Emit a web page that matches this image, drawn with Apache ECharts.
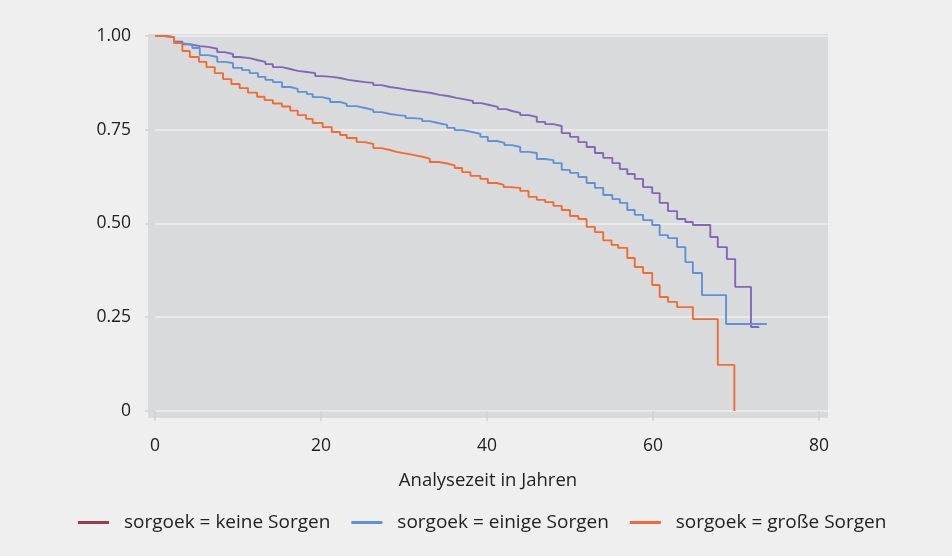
<!DOCTYPE html>
<html>
<head>
<meta charset="utf-8">
<script src="https://cdn.jsdelivr.net/npm/echarts@6/dist/echarts.min.js"></script>
<style>
html,body{margin:0;padding:0;background:#efefef;}
#c{width:952px;height:556px;}
</style>
</head>
<body>
<div id="c"></div>
<script>
// Kaplan-Meier survival estimates
const seriesNames = ['sorgoek = keine Sorgen', 'sorgoek = einige Sorgen', 'sorgoek = große Sorgen'];

const keineT = [0, 1.2, 2.3, 3.3, 4.2, 5.4, 6.4, 7.5, 8.4, 9.4, 10.2, 11.4, 12.3, 13.3, 14.2, 15.3, 16.3, 17.2, 18.3, 19.3,
  20.2, 21.3, 22.3, 23.3, 24.3, 25.3, 26.3, 27.3, 28.3, 29.3, 30.3, 31.3, 32.3, 33.3, 34.3, 35.3, 36.3, 37.3, 38.3, 39.3,
  40.3, 41.3, 42.3, 43.0, 44.0, 45.0, 46.0, 47.0, 48.0, 49.0, 50.0, 51.0, 52.0, 53.0, 54.0, 55.1, 56.0, 56.9, 57.8, 58.8,
  59.9, 60.8, 61.8, 62.9, 63.9, 64.8, 66.9, 67.8, 68.9, 69.9, 71.8, 72.7];
const keineS = [1.000, 0.997, 0.985, 0.978, 0.973, 0.971, 0.966, 0.957, 0.952, 0.944, 0.941, 0.936, 0.931, 0.925, 0.917, 0.912, 0.907, 0.904, 0.901, 0.893,
  0.891, 0.888, 0.883, 0.880, 0.877, 0.875, 0.869, 0.864, 0.861, 0.857, 0.854, 0.851, 0.848, 0.843, 0.840, 0.835, 0.831, 0.827, 0.821, 0.816,
  0.811, 0.805, 0.800, 0.795, 0.789, 0.784, 0.771, 0.765, 0.760, 0.741, 0.731, 0.717, 0.704, 0.688, 0.675, 0.661, 0.645, 0.632, 0.619, 0.597,
  0.581, 0.555, 0.533, 0.512, 0.504, 0.496, 0.464, 0.437, 0.405, 0.331, 0.224, 0.221];

const einigeT = [0, 1.2, 2.3, 3.3, 4.5, 5.4, 6.4, 7.5, 8.4, 9.4, 10.5, 11.4, 12.4, 13.3, 14.2, 15.3, 16.3, 17.2, 18.3, 19.0,
  20.1, 21.1, 22.3, 23.1, 24.3, 25.3, 26.3, 27.3, 28.3, 29.3, 30.2, 31.2, 32.2, 33.1, 34.1, 35.2, 36.1, 37.1, 38.2, 39.2,
  40.1, 41.2, 42.1, 43.0, 44.0, 45.0, 46.0, 47.0, 48.0, 49.0, 50.0, 51.0, 52.0, 53.0, 54.0, 55.1, 56.0, 56.9, 57.8, 58.8,
  59.9, 60.8, 61.8, 62.9, 63.9, 64.8, 65.9, 68.8, 73.7];
const einigeS = [1.000, 0.997, 0.981, 0.976, 0.968, 0.949, 0.944, 0.931, 0.928, 0.915, 0.909, 0.901, 0.891, 0.883, 0.877, 0.864, 0.859, 0.851, 0.845, 0.837,
  0.832, 0.824, 0.819, 0.813, 0.808, 0.803, 0.797, 0.792, 0.789, 0.787, 0.781, 0.779, 0.773, 0.768, 0.763, 0.755, 0.749, 0.744, 0.739, 0.731,
  0.720, 0.715, 0.709, 0.704, 0.691, 0.688, 0.672, 0.669, 0.661, 0.643, 0.635, 0.624, 0.608, 0.595, 0.576, 0.565, 0.555, 0.536, 0.523, 0.509,
  0.496, 0.469, 0.461, 0.437, 0.397, 0.368, 0.309, 0.232, 0.232];

const grosseT = [0, 1.2, 2.3, 3.3, 4.2, 5.3, 6.2, 7.2, 8.2, 9.2, 10.2, 11.2, 12.3, 13.2, 14.2, 15.3, 16.3, 17.2, 18.2, 19.0,
  20.2, 21.3, 22.3, 23.1, 24.3, 25.3, 26.3, 27.3, 28.3, 29.1, 30.1, 31.1, 32.2, 33.1, 34.2, 35.2, 36.1, 37.0, 38.0, 39.2,
  40.1, 41.2, 42.0, 42.8, 44.0, 45.0, 46.0, 47.0, 48.0, 49.0, 50.0, 51.0, 52.0, 53.0, 54.0, 55.0, 55.8, 56.9, 57.8, 58.8,
  59.9, 60.8, 61.8, 62.9, 64.8, 67.8, 69.8];
const grosseS = [1.000, 0.997, 0.981, 0.960, 0.944, 0.931, 0.917, 0.901, 0.885, 0.872, 0.861, 0.849, 0.838, 0.829, 0.820, 0.812, 0.801, 0.789, 0.779, 0.768,
  0.757, 0.744, 0.736, 0.728, 0.717, 0.712, 0.701, 0.696, 0.691, 0.687, 0.683, 0.678, 0.673, 0.664, 0.660, 0.655, 0.648, 0.637, 0.627, 0.619,
  0.608, 0.603, 0.597, 0.595, 0.587, 0.571, 0.563, 0.557, 0.547, 0.536, 0.520, 0.512, 0.491, 0.477, 0.455, 0.443, 0.435, 0.408, 0.384, 0.368,
  0.336, 0.304, 0.291, 0.277, 0.245, 0.123, 0.000];

const xTicks = [0, 20, 40, 60, 80];
const yTicks = [0, 0.25, 0.5, 0.75, 1.0];

const zip = (t, s) => t.map((v, i) => [v, s[i]]);

const lineColors = ['#8466b8', '#5e92d8', '#f26b32'];
const legendColors = ['#9c3b50', '#5e92d8', '#f26b32'];
const FONT = 'Open Sans';

const chart = echarts.init(document.getElementById('c'), null, {renderer: 'canvas'});
chart.setOption({
  backgroundColor: '#efefef',
  animation: false,
  textStyle: {fontFamily: FONT},
  grid: {
    left: 148, right: 124, top: 34, bottom: 138,
    show: true, backgroundColor: '#d9dadc', borderWidth: 0
  },
  legend: {
    left: 73, top: 508,
    itemWidth: 31, itemHeight: 12, itemGap: 21,
    textStyle: {fontSize: 19, color: '#222', fontFamily: FONT, padding: [0, 0, 0, 10]},
    data: seriesNames.map((n, i) => ({
      name: n,
      icon: 'path://M0,0 L31,0 L31,3 L0,3 Z',
      itemStyle: {color: legendColors[i]}
    }))
  },
  xAxis: {
    type: 'value',
    min: -0.84, max: 81.08,
    name: 'Analysezeit in Jahren',
    nameLocation: 'middle',
    nameGap: 53,
    nameTextStyle: {fontSize: 18.5, color: '#222', fontFamily: FONT},
    axisLine: {show: false},
    axisTick: {show: true, length: 10, customValues: xTicks, lineStyle: {color: '#d2d2d2', width: 1.5}},
    axisLabel: {customValues: xTicks, fontSize: 17.5, color: '#222', margin: 19, fontFamily: FONT},
    splitLine: {show: false}
  },
  yAxis: {
    type: 'value',
    min: -0.0187, max: 1.0053,
    axisLine: {show: false},
    axisTick: {show: true, length: 10, customValues: yTicks, lineStyle: {color: '#d2d2d2', width: 1.5}},
    axisLabel: {
      customValues: yTicks, fontSize: 17.5, color: '#222', margin: 17, fontFamily: FONT,
      formatter: v => (v === 0 ? '0' : v.toFixed(2))
    },
    splitLine: {show: true, lineStyle: {color: '#eeeeee', width: 1.5}}
  },
  series: [
    {name: seriesNames[0], type: 'line', step: 'end', symbol: 'none', data: zip(keineT, keineS),
     lineStyle: {color: lineColors[0], width: 1.9}, itemStyle: {color: legendColors[0]}},
    {name: seriesNames[1], type: 'line', step: 'end', symbol: 'none', data: zip(einigeT, einigeS),
     lineStyle: {color: lineColors[1], width: 1.9}, itemStyle: {color: legendColors[1]}},
    {name: seriesNames[2], type: 'line', step: 'end', symbol: 'none', data: zip(grosseT, grosseS),
     lineStyle: {color: lineColors[2], width: 1.9}, itemStyle: {color: legendColors[2]}}
  ]
});
</script>
</body>
</html>
